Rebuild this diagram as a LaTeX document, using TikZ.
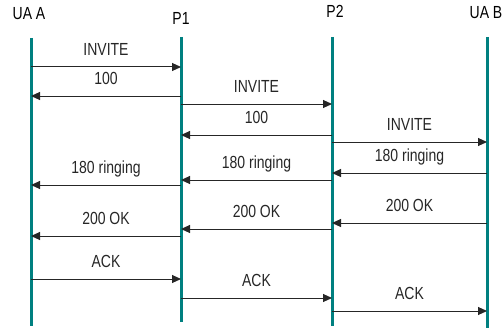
\documentclass[tikz,border=0pt]{standalone}
\usepackage{fontspec}
\setmainfont{Liberation Sans}
\newfontfamily\narrowsans[FakeStretch=0.8]{Liberation Sans}
\usetikzlibrary{positioning,arrows.meta}

\begin{document}
\begin{tikzpicture}[
    x=1pt, y=-1pt,
    every node/.style={
        font=\narrowsans\fontsize{17.5}{20}\selectfont
    },
    party/.style={inner sep=0pt},
    lifeline/.style={line width=3pt, color=teal},
    msg/.style={-{Triangle[length=9pt,width=8pt]}, line width=1pt, color=black!85},
    msglabel/.style={above=5pt, text depth=3pt, color=black!85}
]
\useasboundingbox (0,0) rectangle (503,329);

% Parties at the top
\node[party] (uaa) at (29,14) {UA A};
\node[party] (p1) at (181,18) {P1};
\node[party] (p2) at (335,11) {P2};
\node[party] (uab) at (486,13) {UA B};

% Lifelines
\coordinate (uaa-top) at (31,38);
\coordinate (uaa-bot) at (31,326);
\coordinate (p1-top) at (181,37);
\coordinate (p1-bot) at (181,322);
\coordinate (p2-top) at (332,37);
\coordinate (p2-bot) at (332,326);
\coordinate (uab-top) at (487,37);
\coordinate (uab-bot) at (487,328);

\draw[lifeline] (uaa-top) -- (uaa-bot);
\draw[lifeline] (p1-top) -- (p1-bot);
\draw[lifeline] (p2-top) -- (p2-bot);
\draw[lifeline] (uab-top) -- (uab-bot);

% INVITE
\draw[msg] (uaa-top |- 0,67) -- node[msglabel] {INVITE} (p1-top |- 0,67);
\draw[msg] (p1-top |- 0,96) -- node[msglabel] {100} (uaa-top |- 0,96);
\draw[msg] (p1-top |- 0,104) -- node[msglabel] {INVITE} (p2-top |- 0,104);
\draw[msg] (p2-top |- 0,135) -- node[msglabel] {100} (p1-top |- 0,135);
\draw[msg] (p2-top |- 0,142) -- node[msglabel] {INVITE} (uab-top |- 0,142);

% 180 ringing
\draw[msg] (uab-top |- 0,173) -- node[msglabel] {180 ringing} (p2-top |- 0,173);
\draw[msg] (p2-top |- 0,180) -- node[msglabel] {180 ringing} (p1-top |- 0,180);
\draw[msg] (p1-top |- 0,185) -- node[msglabel] {180 ringing} (uaa-top |- 0,185);

% 200 OK
\draw[msg] (uab-top |- 0,223) -- node[msglabel] {200 OK} (p2-top |- 0,223);
\draw[msg] (p2-top |- 0,229) -- node[msglabel] {200 OK} (p1-top |- 0,229);
\draw[msg] (p1-top |- 0,236) -- node[msglabel] {200 OK} (uaa-top |- 0,236);

% ACK
\draw[msg] (uaa-top |- 0,279) -- node[msglabel] {ACK} (p1-top |- 0,279);
\draw[msg] (p1-top |- 0,298) -- node[msglabel] {ACK} (p2-top |- 0,298);
\draw[msg] (p2-top |- 0,311) -- node[msglabel] {ACK} (uab-top |- 0,311);

\end{tikzpicture}
\end{document}
